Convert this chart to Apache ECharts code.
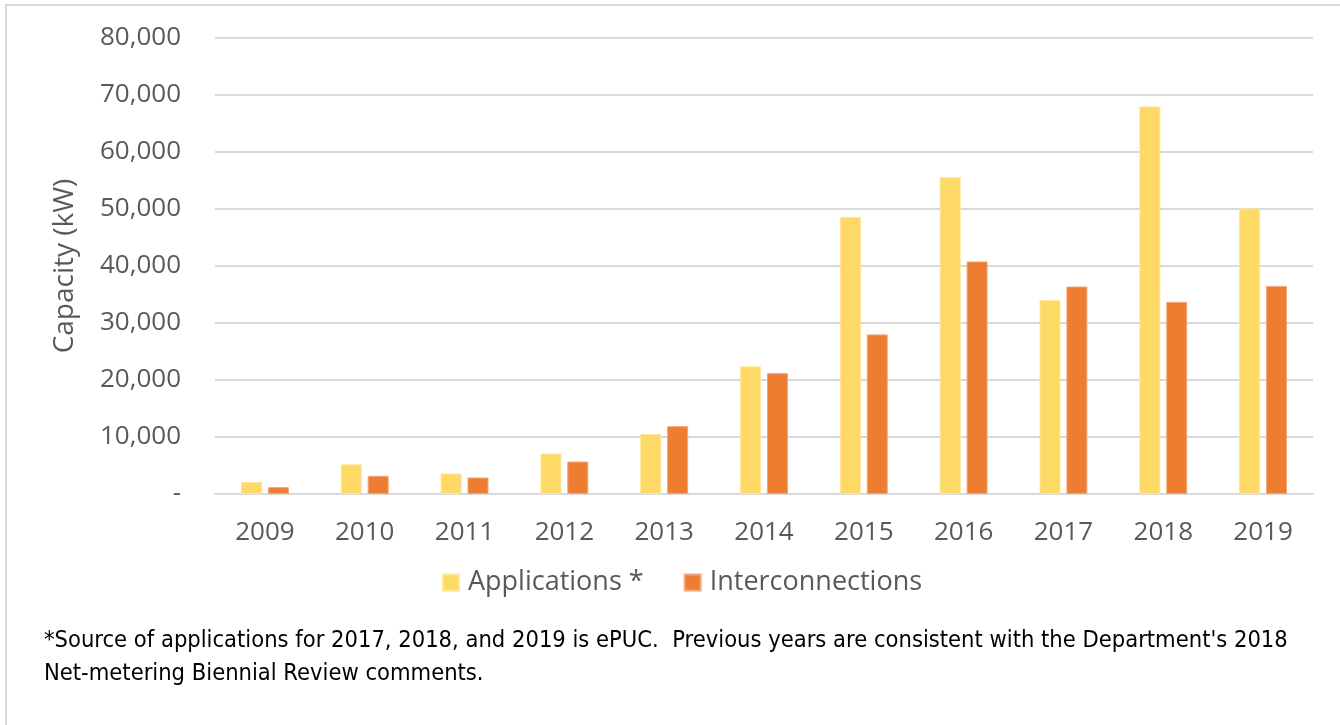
<!DOCTYPE html>
<html><head><meta charset="utf-8">
<script src="https://cdn.jsdelivr.net/npm/echarts@6/dist/echarts.min.js"></script>
<style>html,body{margin:0;padding:0;background:#fff}#c{width:1340px;height:725px}</style>
</head><body><div id="c"></div>
<script>
const categories = ['2009','2010','2011','2012','2013','2014','2015','2016','2017','2018','2019'];
const applications = [2100, 5200, 3600, 7100, 10500, 22400, 48600, 55600, 34000, 68000, 50100];
const interconnections = [1200, 3200, 2900, 5700, 11900, 21200, 28000, 40800, 36400, 33700, 36500];
const yTicks = [0, 10000, 20000, 30000, 40000, 50000, 60000, 70000, 80000];
const seriesNames = ['Applications *', 'Interconnections'];
const footnote = ["*Source of applications for 2017, 2018, and 2019 is ePUC.  Previous years are consistent with the Department's 2018", "Net-metering Biennial Review comments."];

const chart = echarts.init(document.getElementById('c'));
const txt = '#595959';
chart.setOption({
  animation: false,
  textStyle: {fontFamily: 'Open Sans'},
  grid: {left: 215, right: 27, top: 38, bottom: 231},
  legend: {
    left: 437, top: 564, itemWidth: 16, itemHeight: 16, itemGap: 40,
    icon: 'rect',
    textStyle: {fontSize: 27, color: txt, fontFamily: 'Open Sans', padding: [0, 0, 0, 4]},
    data: seriesNames
  },
  xAxis: {
    type: 'category', data: categories,
    axisLine: {lineStyle: {color: '#d9d9d9', width: 2}},
    axisTick: {show: false},
    axisLabel: {fontSize: 26, color: txt, margin: 26}
  },
  yAxis: {
    type: 'value', min: yTicks[0], max: yTicks[yTicks.length - 1], interval: yTicks[1] - yTicks[0],
    name: 'Capacity (kW)', nameLocation: 'middle', nameGap: 136,
    nameTextStyle: {fontSize: 28, color: txt},
    axisLine: {show: false}, axisTick: {show: false},
    splitLine: {lineStyle: {color: '#d9d9d9', width: 2}},
    axisLabel: {fontSize: 26, color: txt, margin: 34,
      formatter: v => v === 0 ? '-' : v.toLocaleString('en-US')}
  },
  series: [
    {name: seriesNames[0], type: 'bar', data: applications, barWidth: 21, barGap: '28%',
     itemStyle: {color: '#FFD966', borderColor: '#FFE699', borderWidth: 1}},
    {name: seriesNames[1], type: 'bar', data: interconnections, barWidth: 21,
     itemStyle: {color: '#ED7D31', borderColor: '#F4A77A', borderWidth: 1}}
  ],
  graphic: [
    {type: 'rect', shape: {x: 6, y: 5, width: 1400, height: 800}, style: {fill: 'none', stroke: '#d9d9d9', lineWidth: 2}, silent: true},
    {type: 'text', left: 44, top: 629, style: {text: footnote[0], fontSize: 23.5, fill: '#000', fontFamily: 'DejaVu Sans Condensed'}},
    {type: 'text', left: 44, top: 662, style: {text: footnote[1], fontSize: 23.5, fill: '#000', fontFamily: 'DejaVu Sans Condensed'}}
  ]
});
</script></body></html>
